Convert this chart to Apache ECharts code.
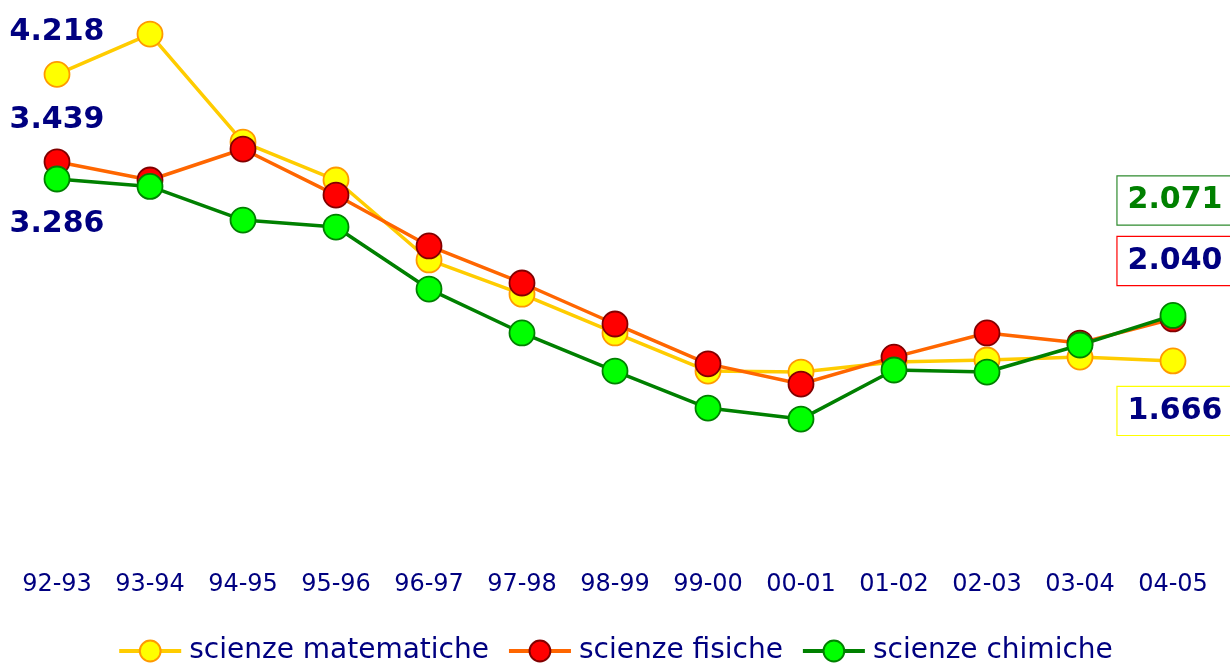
<!DOCTYPE html>
<html>
<head>
<meta charset="utf-8">
<script src="https://cdn.jsdelivr.net/npm/echarts@6/dist/echarts.min.js"></script>
<style>
html,body{margin:0;padding:0;background:#fff;}
#chart{width:1230px;height:664px;}
</style>
</head>
<body>
<div id="chart"></div>
<script>
const categories = ['92-93','93-94','94-95','95-96','96-97','97-98','98-99','99-00','00-01','01-02','02-03','03-04','04-05'];
const seriesNames = ['scienze matematiche','scienze fisiche','scienze chimiche'];
const matematiche = [4.218, 4.577, 3.615, 3.277, 2.565, 2.26, 1.915, 1.576, 1.567, 1.656, 1.674, 1.70, 1.666];
const fisiche     = [3.439, 3.277, 3.553, 3.143, 2.69, 2.36, 1.995, 1.64, 1.46, 1.70, 1.915, 1.825, 2.040];
const chimiche    = [3.286, 3.22, 2.92, 2.858, 2.306, 1.915, 1.576, 1.246, 1.148, 1.585, 1.567, 1.808, 2.071];

const FONT = 'DejaVu Sans';
const NAVY = '#000080';

function fmt(v){ return v.toFixed(3); }

function buildData(values, firstOffset, last) {
  return values.map((v, i) => {
    if (i === 0) {
      return { value: v, label: { show: true, position: 'inside', offset: [0, firstOffset],
        formatter: () => fmt(v), fontFamily: FONT, fontWeight: 'bold', fontSize: 30, color: NAVY } };
    }
    if (i === values.length - 1) {
      return { value: v, label: { show: true, position: 'inside', offset: [2, last.offset],
        formatter: () => fmt(v), fontFamily: FONT, fontWeight: 'bold', fontSize: 30, color: last.color,
        borderColor: last.border, borderWidth: 1.2, padding: [10, 10, 8, 10], backgroundColor: '#fff' } };
    }
    return v;
  });
}

const styles = [
  { line: '#FFCC00', fill: '#FFFF00', border: '#FF9900', first: -42, last: { offset: 50, color: NAVY, border: '#FFFF00' } },
  { line: '#FF6600', fill: '#FF0000', border: '#800000', first: -42, last: { offset: -58, color: NAVY, border: '#FF0000' } },
  { line: '#008000', fill: '#00FF00', border: '#008000', first: 45, last: { offset: -115, color: '#008000', border: '#2E8B2E' } }
];
const allValues = [matematiche, fisiche, chimiche];

const chart = echarts.init(document.getElementById('chart'), null, { renderer: 'canvas' });
chart.setOption({
  animation: false,
  backgroundColor: '#fff',
  grid: { left: 10.5, right: 10.5, top: 9, bottom: 116, containLabel: false },
  xAxis: {
    type: 'category',
    data: categories,
    boundaryGap: true,
    axisLine: { show: false },
    axisTick: { show: false },
    axisLabel: { color: NAVY, fontFamily: FONT, fontSize: 24, margin: 25 }
  },
  yAxis: {
    type: 'value', min: 0, max: 4.8,
    show: false, splitLine: { show: false }
  },
  legend: {
    top: 632, left: 'center',
    itemWidth: 62, itemHeight: 26, itemGap: 18,
    lineStyle: { width: 4 },
    textStyle: { color: NAVY, fontFamily: FONT, fontSize: 28, padding: [0, 0, 0, 3] },
    data: seriesNames
  },
  series: seriesNames.map((name, k) => ({
    name: name,
    type: 'line',
    data: buildData(allValues[k], styles[k].first, styles[k].last),
    symbol: 'circle',
    symbolSize: 25,
    lineStyle: { color: styles[k].line, width: 3.5 },
    itemStyle: { color: styles[k].fill, borderColor: styles[k].border, borderWidth: 1.8 },
    z: 2 + k
  }))
});
</script>
</body>
</html>
